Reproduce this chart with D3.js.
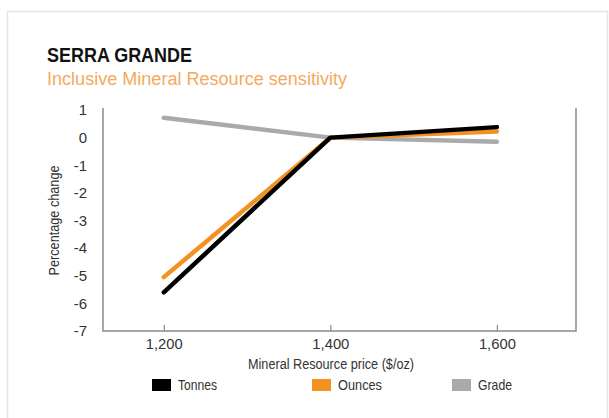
<!DOCTYPE html>
<html>
<head>
<meta charset="utf-8">
<script src="https://cdn.jsdelivr.net/npm/d3@7"></script>
<style>
  html, body { margin: 0; padding: 0; background: #fff; }
  svg { display: block; }
  text { font-family: "Liberation Sans", Arial, sans-serif; }
</style>
</head>
<body>
<svg id="chart" width="609" height="418"></svg>
<script>
// Mineral Resource price points ($/oz)
const prices = [1200, 1400, 1600];
const priceLabels = ["1,200", "1,400", "1,600"];
// Percentage change per series
const tonnes = [-5.6, 0, 0.38];
const ounces = [-5.05, 0, 0.22];
const grade = [0.72, 0, -0.15];
const yTicks = [1, 0, -1, -2, -3, -4, -5, -6, -7];
const seriesNames = ["Tonnes", "Ounces", "Grade"];
const seriesColors = ["#000000", "#f39220", "#aaaaaa"];

const svg = d3.select("#chart");

// card border
svg.append("rect")
  .attr("x", 7.5).attr("y", 11.5)
  .attr("width", 600).attr("height", 430)
  .attr("fill", "none").attr("stroke", "#e6e6e6").attr("stroke-width", 1.5);

// condensed headline type
svg.append("text")
  .attr("x", 47).attr("y", 62)
  .attr("font-size", 20.5).attr("font-weight", "bold").attr("fill", "#111")
  .attr("textLength", 145).attr("lengthAdjust", "spacingAndGlyphs")
  .text("SERRA GRANDE");
svg.append("text")
  .attr("x", 47).attr("y", 85)
  .attr("font-size", 18).attr("fill", "#f4aa60")
  .attr("textLength", 300).attr("lengthAdjust", "spacingAndGlyphs")
  .text("Inclusive Mineral Resource sensitivity");

const plotLeft = 103, plotRight = 576, plotTop = 110, plotBottom = 331;
const x = d3.scaleLinear().domain([1127, 1695]).range([plotLeft, plotRight]);
const y = d3.scaleLinear().domain([-7, 1]).range([plotBottom, plotTop]);

// frame: left, bottom, right
svg.append("path")
  .attr("d", `M${plotLeft},${plotTop - 2}V${plotBottom}H${plotRight}V${plotTop - 2}`)
  .attr("fill", "none").attr("stroke", "#8a8a8a").attr("stroke-width", 1.5);

// x axis
const xAxis = svg.append("g")
  .attr("transform", `translate(0,${plotBottom})`)
  .call(d3.axisBottom(x).tickValues(prices).tickFormat((d, i) => priceLabels[i]).tickSize(0).tickPadding(7));
xAxis.select(".domain").remove();
xAxis.selectAll(".tick line").attr("y1", -6).attr("y2", 0).attr("stroke", "#8a8a8a").attr("stroke-width", 1.2);
xAxis.selectAll("text").attr("font-size", 15).attr("fill", "#333")
  .attr("font-family", "'Liberation Sans', Arial, sans-serif")
  .attr("textLength", 37).attr("lengthAdjust", "spacingAndGlyphs");

// y axis
const yAxis = svg.append("g")
  .attr("transform", `translate(${plotLeft},0)`)
  .call(d3.axisLeft(y).tickValues(yTicks).tickFormat(d => String(d)).tickSize(0).tickPadding(16));
yAxis.select(".domain").remove();
yAxis.selectAll("text").attr("font-size", 15).attr("fill", "#333")
  .attr("font-family", "'Liberation Sans', Arial, sans-serif");

svg.append("text")
  .attr("transform", `translate(59,${(plotTop + plotBottom) / 2}) rotate(-90)`)
  .attr("text-anchor", "middle").attr("font-size", 14).attr("fill", "#333")
  .attr("textLength", 110).attr("lengthAdjust", "spacingAndGlyphs")
  .text("Percentage change");

svg.append("text")
  .attr("x", 331).attr("y", 369)
  .attr("text-anchor", "middle").attr("font-size", 14).attr("fill", "#333")
  .attr("textLength", 166).attr("lengthAdjust", "spacingAndGlyphs")
  .text("Mineral Resource price ($/oz)");

// series lines (grade underneath, tonnes on top)
const line = d3.line().x((d, i) => x(prices[i])).y(d => y(d));
const series = [tonnes, ounces, grade];
[2, 1, 0].forEach(k => {
  svg.append("path")
    .attr("d", line(series[k]))
    .attr("fill", "none")
    .attr("stroke", seriesColors[k])
    .attr("stroke-width", 4.5)
    .attr("stroke-linecap", "round")
    .attr("stroke-linejoin", "round");
});

// legend
const legendX = [152, 312, 452];
const legendTextWidth = [39, 44, 34];
seriesNames.forEach((name, i) => {
  svg.append("rect")
    .attr("x", legendX[i]).attr("y", 379)
    .attr("width", 19).attr("height", 12)
    .attr("fill", seriesColors[i]);
  svg.append("text")
    .attr("x", legendX[i] + 26).attr("y", 390)
    .attr("font-size", 15).attr("fill", "#333")
    .attr("textLength", legendTextWidth[i]).attr("lengthAdjust", "spacingAndGlyphs")
    .text(name);
});
</script>
</body>
</html>
